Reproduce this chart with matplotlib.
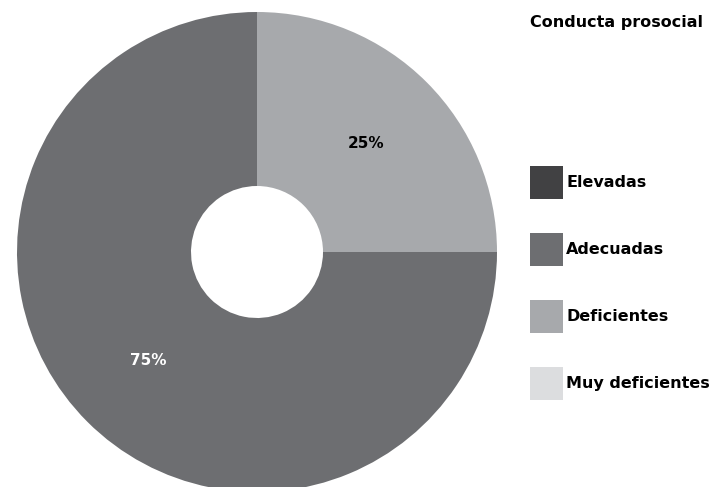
import matplotlib.pyplot as plt
from matplotlib.patches import Patch

# Data
categories = ["Elevadas", "Adecuadas", "Deficientes", "Muy deficientes"]
values = [0, 75, 25, 0]
colors = ["#414143", "#6d6e71", "#a7a9ac", "#dcdddf"]
label_colors = ["white", "white", "black", "black"]

fig = plt.figure(figsize=(7.12, 4.87), dpi=100)
W, H = 712, 487
cx, cy, r = 257, 252, 240
ax = fig.add_axes([(cx - r) / W, (H - cy - r) / H, 2 * r / W, 2 * r / H])

# only draw non-zero slices
vals = [v for v in values if v > 0]
cols = [c for v, c in zip(values, colors) if v > 0]
tcols = [c for v, c in zip(values, label_colors) if v > 0]

# reversed so that Deficientes sits top-right going clockwise
wedges, texts, autotexts = ax.pie(
    vals[::-1], colors=cols[::-1], startangle=90, counterclock=False,
    autopct="%d%%", pctdistance=0.64, radius=1,
    wedgeprops=dict(width=1 - 66 / 240, linewidth=0),
)
for t, c in zip(autotexts, tcols[::-1]):
    t.set_color(c)
    t.set_fontsize(11)
    t.set_fontweight("bold")
ax.set_xlim(-1, 1)
ax.set_ylim(-1, 1)
ax.set_aspect("equal")
ax.axis("off")

# Legend
fs = 11.5
fig.text(530 / W, 1 - 23 / H, "Conducta prosocial", fontsize=fs,
         fontweight="bold", va="center", ha="left")
handles = [Patch(facecolor=c, edgecolor="none") for c in colors]
px = fs * 100 / 72
box = 33 / px  # square patch size in font units
hh = (box - 0.245) / 0.65  # legend removes a descent from handleheight
leg = fig.legend(handles, categories, loc="upper left",
                 bbox_to_anchor=(530 / W, 1 - 166 / H), frameon=False,
                 borderpad=0, borderaxespad=0,
                 handlelength=box, handleheight=hh,
                 handletextpad=3 / px, labelspacing=34 / px,
                 prop=dict(weight="bold", size=fs))

fig.savefig("out.png", dpi=100)
